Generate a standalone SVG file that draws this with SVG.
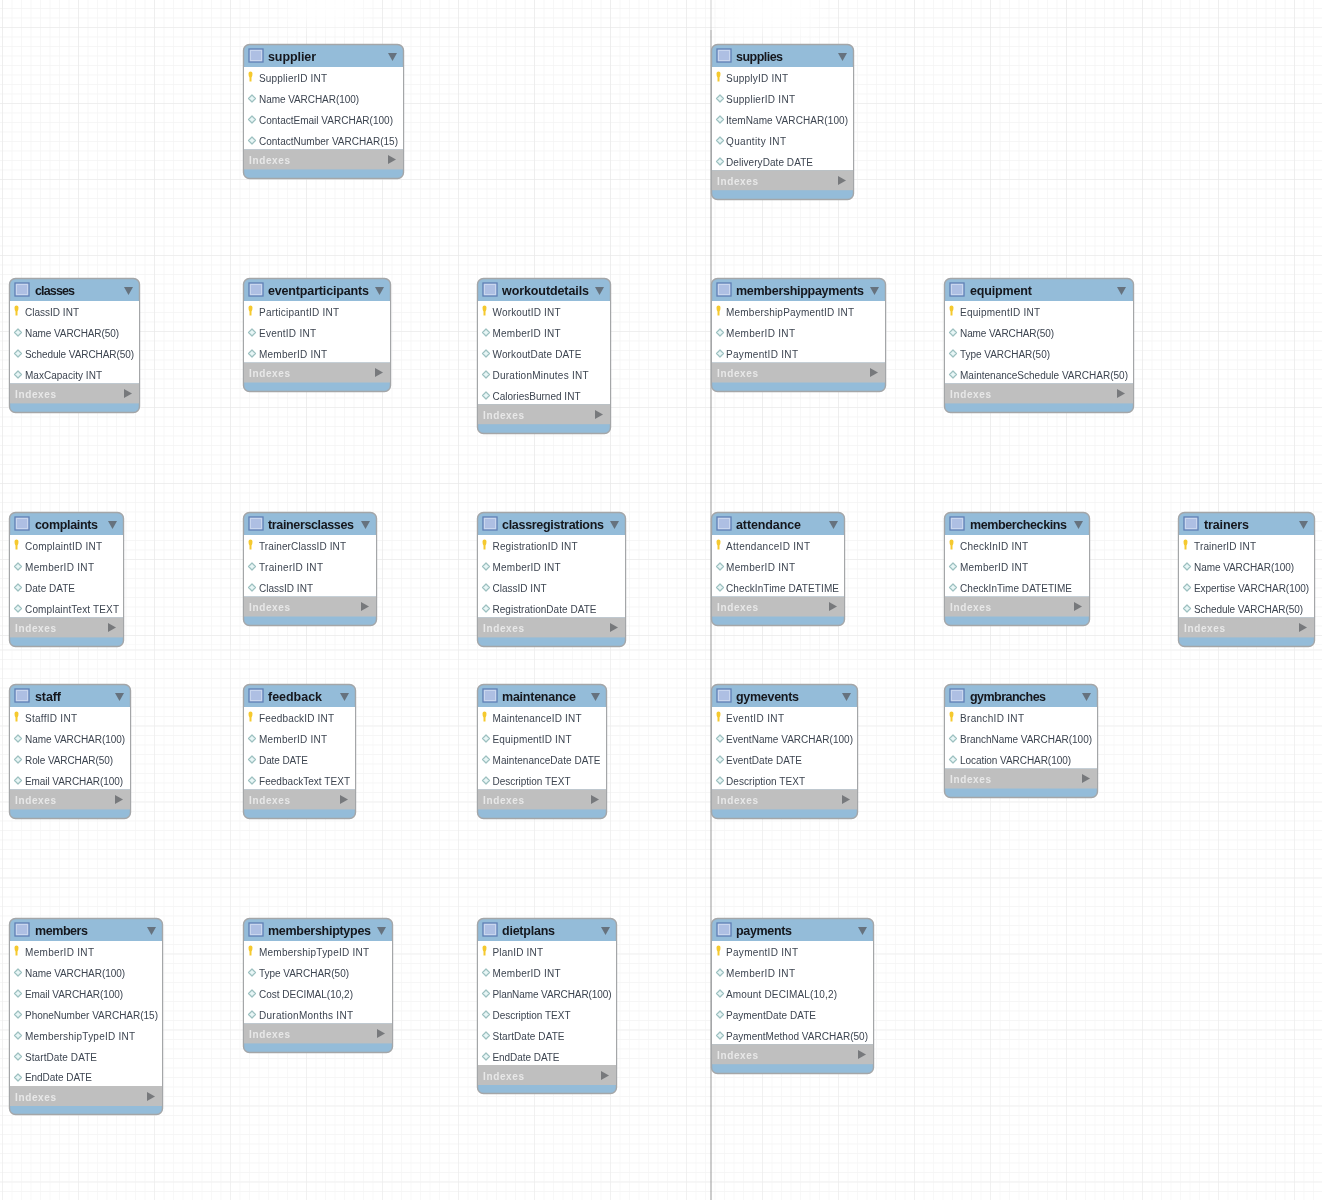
<svg xmlns="http://www.w3.org/2000/svg" width="1322" height="1200" viewBox="0 0 1322 1200">
<style>
text{font-family:"Liberation Sans",Arial,sans-serif}
.o{fill:#94bcd9;stroke:#a4a6a8;stroke-width:1.4}
.b{fill:#fff}
.i{fill:#bfbfbf}
.t{font-size:12.5px;font-weight:bold;fill:#14181e}
.r{font-size:10px;fill:#3c4450}
.x{font-size:10px;font-weight:bold;fill:#e8e8e8}
.h{fill:#66727e}
.a{fill:#77797c}
</style>
<defs>
<pattern id="minorA" patternUnits="userSpaceOnUse" x="2" y="27" width="9.5" height="9.5"><path d="M0 0V9.5M0 0H9.5" fill="none" stroke="#f3f3f3" stroke-width="1.3"/></pattern>
<pattern id="majorA" patternUnits="userSpaceOnUse" x="2" y="27" width="76" height="76"><path d="M0 0V76M0 0H76" fill="none" stroke="#e8e8e8" stroke-width="1.2"/></pattern>
<pattern id="minorB" patternUnits="userSpaceOnUse" x="2" y="41.500" width="9.5" height="9.5"><path d="M0 0V9.5M0 0H9.5" fill="none" stroke="#f4f4f4" stroke-width="1.2"/></pattern>
<pattern id="majorB" patternUnits="userSpaceOnUse" x="2" y="41.500" width="76" height="76"><path d="M0 0V76M0 0H76" fill="none" stroke="#ebebeb" stroke-width="1.1"/></pattern>
<filter id="soft" x="-30%" y="-30%" width="160%" height="160%"><feGaussianBlur stdDeviation="9"/></filter>
<filter id="ink"><feGaussianBlur stdDeviation="0.3"/></filter>
<g id="tbl"><rect x="6" y="5" width="14" height="13" fill="#c9d6ee" stroke="#5f7fb5" stroke-width="1.3"/><rect x="8" y="7" width="10" height="9" fill="#aebfe3"/></g>
<g id="key"><path d="M5.500 29.500a2 2 0 0 1 4 0q0 3-1 4v4h-2v-4q-1-1-1-4z" fill="#f5c92e"/></g>
<g id="d"><path d="M9-3.500L12.500 0L9 3.500L5.500 0z" fill="#e8f6f6" stroke="#9cc0c0" stroke-width="1.2" stroke-linejoin="round"/></g>
</defs>
<rect width="1322" height="1200" fill="#fff"/>
<rect width="1322" height="645" fill="url(#minorA)"/>
<rect width="1322" height="645" fill="url(#majorA)"/>
<rect y="645" width="1322" height="555" fill="url(#minorB)"/>
<rect y="645" width="1322" height="555" fill="url(#majorB)"/>
<g filter="url(#soft)" fill="#fff" opacity=".8"><rect x="290" y="-10" width="70" height="35"/><rect x="725" y="-10" width="90" height="40"/></g>
<g id="connectors"><path d="M711 0V30" stroke="#cfcfcf" stroke-width="1"/><path d="M711 30V1200" stroke="#999" stroke-width="1"/></g>

<g filter="url(#ink)">
<g id="supplier" transform="translate(243,44)">
<rect class="o" x=".5" y=".5" width="160" height="134" rx="6"/><rect class="b" x="1" y="23" width="159" height="82.400"/><rect class="i" x="1" y="105.400" width="159" height="20"/>
<use href="#tbl"/><text class="t" x="25" y="17" textLength="48">supplier</text><path class="h" d="M145 9h9l-4.500 8z"/>
<use href="#key"/><text class="r" x="16" y="37.500" textLength="68">SupplierID INT</text>
<use href="#d" y="54.500"/><text class="r" x="16" y="59.200" textLength="100">Name VARCHAR(100)</text>
<use href="#d" y="75.500"/><text class="r" x="16" y="80" textLength="134">ContactEmail VARCHAR(100)</text>
<use href="#d" y="96.500"/><text class="r" x="16" y="100.800" textLength="139">ContactNumber VARCHAR(15)</text>
<text class="x" x="6" y="120" textLength="41">Indexes</text><path class="a" d="M145 111v9l8-4.500z"/>
</g>
<g id="supplies" transform="translate(711,44)">
<rect class="o" x=".5" y=".5" width="142" height="155" rx="6"/><rect class="b" x="1" y="23" width="141" height="103.200"/><rect class="i" x="1" y="126.200" width="141" height="20"/>
<use href="#tbl"/><text class="t" x="25" y="17" textLength="47">supplies</text><path class="h" d="M127 9h9l-4.500 8z"/>
<use href="#key"/><text class="r" x="15" y="37.500" textLength="62">SupplyID INT</text>
<use href="#d" y="54.500"/><text class="r" x="15" y="59.200" textLength="69">SupplierID INT</text>
<use href="#d" y="75.500"/><text class="r" x="15" y="80" textLength="122">ItemName VARCHAR(100)</text>
<use href="#d" y="96.500"/><text class="r" x="15" y="100.800" textLength="60">Quantity INT</text>
<use href="#d" y="117.500"/><text class="r" x="15" y="121.700" textLength="87">DeliveryDate DATE</text>
<text class="x" x="6" y="141" textLength="41">Indexes</text><path class="a" d="M127 132v9l8-4.500z"/>
</g>
<g id="classes" transform="translate(9,278)">
<rect class="o" x=".5" y=".5" width="130" height="134" rx="6"/><rect class="b" x="1" y="23" width="129" height="82.400"/><rect class="i" x="1" y="105.400" width="129" height="20"/>
<use href="#tbl"/><text class="t" x="26" y="17" textLength="40">classes</text><path class="h" d="M115 9h9l-4.500 8z"/>
<use href="#key"/><text class="r" x="16" y="37.500" textLength="54">ClassID INT</text>
<use href="#d" y="54.500"/><text class="r" x="16" y="59.200" textLength="94">Name VARCHAR(50)</text>
<use href="#d" y="75.500"/><text class="r" x="16" y="80" textLength="109">Schedule VARCHAR(50)</text>
<use href="#d" y="96.500"/><text class="r" x="16" y="100.800" textLength="77">MaxCapacity INT</text>
<text class="x" x="6" y="120" textLength="41">Indexes</text><path class="a" d="M115 111v9l8-4.500z"/>
</g>
<g id="eventparticipants" transform="translate(243,278)">
<rect class="o" x=".5" y=".5" width="147" height="113" rx="6"/><rect class="b" x="1" y="23" width="146" height="61.500"/><rect class="i" x="1" y="84.500" width="146" height="20"/>
<use href="#tbl"/><text class="t" x="25" y="17" textLength="101">eventparticipants</text><path class="h" d="M132 9h9l-4.500 8z"/>
<use href="#key"/><text class="r" x="16" y="37.500" textLength="80">ParticipantID INT</text>
<use href="#d" y="54.500"/><text class="r" x="16" y="59.200" textLength="57">EventID INT</text>
<use href="#d" y="75.500"/><text class="r" x="16" y="80" textLength="68">MemberID INT</text>
<text class="x" x="6" y="99" textLength="41">Indexes</text><path class="a" d="M132 90v9l8-4.500z"/>
</g>
<g id="workoutdetails" transform="translate(477,278)">
<rect class="o" x=".5" y=".5" width="133" height="155" rx="6"/><rect class="b" x="1" y="23" width="132" height="103.200"/><rect class="i" x="1" y="126.200" width="132" height="20"/>
<use href="#tbl"/><text class="t" x="25" y="17" textLength="87">workoutdetails</text><path class="h" d="M118 9h9l-4.500 8z"/>
<use href="#key"/><text class="r" x="15.500" y="37.500" textLength="68">WorkoutID INT</text>
<use href="#d" y="54.500"/><text class="r" x="15.500" y="59.200" textLength="68">MemberID INT</text>
<use href="#d" y="75.500"/><text class="r" x="15.500" y="80" textLength="89">WorkoutDate DATE</text>
<use href="#d" y="96.500"/><text class="r" x="15.500" y="100.800" textLength="96">DurationMinutes INT</text>
<use href="#d" y="117.500"/><text class="r" x="15.500" y="121.700" textLength="88">CaloriesBurned INT</text>
<text class="x" x="6" y="141" textLength="41">Indexes</text><path class="a" d="M118 132v9l8-4.500z"/>
</g>
<g id="membershippayments" transform="translate(711,278)">
<rect class="o" x=".5" y=".5" width="174" height="113" rx="6"/><rect class="b" x="1" y="23" width="173" height="61.500"/><rect class="i" x="1" y="84.500" width="173" height="20"/>
<use href="#tbl"/><text class="t" x="25" y="17" textLength="128">membershippayments</text><path class="h" d="M159 9h9l-4.500 8z"/>
<use href="#key"/><text class="r" x="15" y="37.500" textLength="128">MembershipPaymentID INT</text>
<use href="#d" y="54.500"/><text class="r" x="15" y="59.200" textLength="69">MemberID INT</text>
<use href="#d" y="75.500"/><text class="r" x="15" y="80" textLength="72">PaymentID INT</text>
<text class="x" x="6" y="99" textLength="41">Indexes</text><path class="a" d="M159 90v9l8-4.500z"/>
</g>
<g id="equipment" transform="translate(944,278)">
<rect class="o" x=".5" y=".5" width="189" height="134" rx="6"/><rect class="b" x="1" y="23" width="188" height="82.400"/><rect class="i" x="1" y="105.400" width="188" height="20"/>
<use href="#tbl"/><text class="t" x="26" y="17" textLength="62">equipment</text><path class="h" d="M173 9h9l-4.500 8z"/>
<use href="#key"/><text class="r" x="16" y="37.500" textLength="80">EquipmentID INT</text>
<use href="#d" y="54.500"/><text class="r" x="16" y="59.200" textLength="94">Name VARCHAR(50)</text>
<use href="#d" y="75.500"/><text class="r" x="16" y="80" textLength="90">Type VARCHAR(50)</text>
<use href="#d" y="96.500"/><text class="r" x="16" y="100.800" textLength="168">MaintenanceSchedule VARCHAR(50)</text>
<text class="x" x="6" y="120" textLength="41">Indexes</text><path class="a" d="M173 111v9l8-4.500z"/>
</g>
<g id="complaints" transform="translate(9,512)">
<rect class="o" x=".5" y=".5" width="114" height="134" rx="6"/><rect class="b" x="1" y="23" width="113" height="82.400"/><rect class="i" x="1" y="105.400" width="113" height="20"/>
<use href="#tbl"/><text class="t" x="26" y="17" textLength="63">complaints</text><path class="h" d="M99 9h9l-4.500 8z"/>
<use href="#key"/><text class="r" x="16" y="37.500" textLength="77">ComplaintID INT</text>
<use href="#d" y="54.500"/><text class="r" x="16" y="59.200" textLength="69">MemberID INT</text>
<use href="#d" y="75.500"/><text class="r" x="16" y="80" textLength="50">Date DATE</text>
<use href="#d" y="96.500"/><text class="r" x="16" y="100.800" textLength="94">ComplaintText TEXT</text>
<text class="x" x="6" y="120" textLength="41">Indexes</text><path class="a" d="M99 111v9l8-4.500z"/>
</g>
<g id="trainersclasses" transform="translate(243,512)">
<rect class="o" x=".5" y=".5" width="133" height="113" rx="6"/><rect class="b" x="1" y="23" width="132" height="61.500"/><rect class="i" x="1" y="84.500" width="132" height="20"/>
<use href="#tbl"/><text class="t" x="25" y="17" textLength="86">trainersclasses</text><path class="h" d="M118 9h9l-4.500 8z"/>
<use href="#key"/><text class="r" x="16" y="37.500" textLength="87">TrainerClassID INT</text>
<use href="#d" y="54.500"/><text class="r" x="16" y="59.200" textLength="64">TrainerID INT</text>
<use href="#d" y="75.500"/><text class="r" x="16" y="80" textLength="54">ClassID INT</text>
<text class="x" x="6" y="99" textLength="41">Indexes</text><path class="a" d="M118 90v9l8-4.500z"/>
</g>
<g id="classregistrations" transform="translate(477,512)">
<rect class="o" x=".5" y=".5" width="148" height="134" rx="6"/><rect class="b" x="1" y="23" width="147" height="82.400"/><rect class="i" x="1" y="105.400" width="147" height="20"/>
<use href="#tbl"/><text class="t" x="25" y="17" textLength="102">classregistrations</text><path class="h" d="M133 9h9l-4.500 8z"/>
<use href="#key"/><text class="r" x="15.500" y="37.500" textLength="85">RegistrationID INT</text>
<use href="#d" y="54.500"/><text class="r" x="15.500" y="59.200" textLength="68">MemberID INT</text>
<use href="#d" y="75.500"/><text class="r" x="15.500" y="80" textLength="54">ClassID INT</text>
<use href="#d" y="96.500"/><text class="r" x="15.500" y="100.800" textLength="104">RegistrationDate DATE</text>
<text class="x" x="6" y="120" textLength="41">Indexes</text><path class="a" d="M133 111v9l8-4.500z"/>
</g>
<g id="attendance" transform="translate(711,512)">
<rect class="o" x=".5" y=".5" width="133" height="113" rx="6"/><rect class="b" x="1" y="23" width="132" height="61.500"/><rect class="i" x="1" y="84.500" width="132" height="20"/>
<use href="#tbl"/><text class="t" x="25" y="17" textLength="65">attendance</text><path class="h" d="M118 9h9l-4.500 8z"/>
<use href="#key"/><text class="r" x="15" y="37.500" textLength="84">AttendanceID INT</text>
<use href="#d" y="54.500"/><text class="r" x="15" y="59.200" textLength="69">MemberID INT</text>
<use href="#d" y="75.500"/><text class="r" x="15" y="80" textLength="113">CheckInTime DATETIME</text>
<text class="x" x="6" y="99" textLength="41">Indexes</text><path class="a" d="M118 90v9l8-4.500z"/>
</g>
<g id="membercheckins" transform="translate(944,512)">
<rect class="o" x=".5" y=".5" width="145" height="113" rx="6"/><rect class="b" x="1" y="23" width="144" height="61.500"/><rect class="i" x="1" y="84.500" width="144" height="20"/>
<use href="#tbl"/><text class="t" x="26" y="17" textLength="97">membercheckins</text><path class="h" d="M130 9h9l-4.500 8z"/>
<use href="#key"/><text class="r" x="16" y="37.500" textLength="68">CheckInID INT</text>
<use href="#d" y="54.500"/><text class="r" x="16" y="59.200" textLength="68">MemberID INT</text>
<use href="#d" y="75.500"/><text class="r" x="16" y="80" textLength="112">CheckInTime DATETIME</text>
<text class="x" x="6" y="99" textLength="41">Indexes</text><path class="a" d="M130 90v9l8-4.500z"/>
</g>
<g id="trainers" transform="translate(1178,512)">
<rect class="o" x=".5" y=".5" width="136" height="134" rx="6"/><rect class="b" x="1" y="23" width="135" height="82.400"/><rect class="i" x="1" y="105.400" width="135" height="20"/>
<use href="#tbl"/><text class="t" x="26" y="17" textLength="45">trainers</text><path class="h" d="M121 9h9l-4.500 8z"/>
<use href="#key"/><text class="r" x="16" y="37.500" textLength="62">TrainerID INT</text>
<use href="#d" y="54.500"/><text class="r" x="16" y="59.200" textLength="100">Name VARCHAR(100)</text>
<use href="#d" y="75.500"/><text class="r" x="16" y="80" textLength="115">Expertise VARCHAR(100)</text>
<use href="#d" y="96.500"/><text class="r" x="16" y="100.800" textLength="109">Schedule VARCHAR(50)</text>
<text class="x" x="6" y="120" textLength="41">Indexes</text><path class="a" d="M121 111v9l8-4.500z"/>
</g>
<g id="staff" transform="translate(9,684)">
<rect class="o" x=".5" y=".5" width="121" height="134" rx="6"/><rect class="b" x="1" y="23" width="120" height="82.400"/><rect class="i" x="1" y="105.400" width="120" height="20"/>
<use href="#tbl"/><text class="t" x="26" y="17" textLength="26">staff</text><path class="h" d="M106 9h9l-4.500 8z"/>
<use href="#key"/><text class="r" x="16" y="37.500" textLength="52">StaffID INT</text>
<use href="#d" y="54.500"/><text class="r" x="16" y="59.200" textLength="100">Name VARCHAR(100)</text>
<use href="#d" y="75.500"/><text class="r" x="16" y="80" textLength="88">Role VARCHAR(50)</text>
<use href="#d" y="96.500"/><text class="r" x="16" y="100.800" textLength="98">Email VARCHAR(100)</text>
<text class="x" x="6" y="120" textLength="41">Indexes</text><path class="a" d="M106 111v9l8-4.500z"/>
</g>
<g id="feedback" transform="translate(243,684)">
<rect class="o" x=".5" y=".5" width="112" height="134" rx="6"/><rect class="b" x="1" y="23" width="111" height="82.400"/><rect class="i" x="1" y="105.400" width="111" height="20"/>
<use href="#tbl"/><text class="t" x="25" y="17" textLength="54">feedback</text><path class="h" d="M97 9h9l-4.500 8z"/>
<use href="#key"/><text class="r" x="16" y="37.500" textLength="75">FeedbackID INT</text>
<use href="#d" y="54.500"/><text class="r" x="16" y="59.200" textLength="68">MemberID INT</text>
<use href="#d" y="75.500"/><text class="r" x="16" y="80" textLength="49">Date DATE</text>
<use href="#d" y="96.500"/><text class="r" x="16" y="100.800" textLength="91">FeedbackText TEXT</text>
<text class="x" x="6" y="120" textLength="41">Indexes</text><path class="a" d="M97 111v9l8-4.500z"/>
</g>
<g id="maintenance" transform="translate(477,684)">
<rect class="o" x=".5" y=".5" width="129" height="134" rx="6"/><rect class="b" x="1" y="23" width="128" height="82.400"/><rect class="i" x="1" y="105.400" width="128" height="20"/>
<use href="#tbl"/><text class="t" x="25" y="17" textLength="74">maintenance</text><path class="h" d="M114 9h9l-4.500 8z"/>
<use href="#key"/><text class="r" x="15.500" y="37.500" textLength="89">MaintenanceID INT</text>
<use href="#d" y="54.500"/><text class="r" x="15.500" y="59.200" textLength="79">EquipmentID INT</text>
<use href="#d" y="75.500"/><text class="r" x="15.500" y="80" textLength="108">MaintenanceDate DATE</text>
<use href="#d" y="96.500"/><text class="r" x="15.500" y="100.800" textLength="78">Description TEXT</text>
<text class="x" x="6" y="120" textLength="41">Indexes</text><path class="a" d="M114 111v9l8-4.500z"/>
</g>
<g id="gymevents" transform="translate(711,684)">
<rect class="o" x=".5" y=".5" width="146" height="134" rx="6"/><rect class="b" x="1" y="23" width="145" height="82.400"/><rect class="i" x="1" y="105.400" width="145" height="20"/>
<use href="#tbl"/><text class="t" x="25" y="17" textLength="63">gymevents</text><path class="h" d="M131 9h9l-4.500 8z"/>
<use href="#key"/><text class="r" x="15" y="37.500" textLength="58">EventID INT</text>
<use href="#d" y="54.500"/><text class="r" x="15" y="59.200" textLength="127">EventName VARCHAR(100)</text>
<use href="#d" y="75.500"/><text class="r" x="15" y="80" textLength="76">EventDate DATE</text>
<use href="#d" y="96.500"/><text class="r" x="15" y="100.800" textLength="79">Description TEXT</text>
<text class="x" x="6" y="120" textLength="41">Indexes</text><path class="a" d="M131 111v9l8-4.500z"/>
</g>
<g id="gymbranches" transform="translate(944,684)">
<rect class="o" x=".5" y=".5" width="153" height="113" rx="6"/><rect class="b" x="1" y="23" width="152" height="61.500"/><rect class="i" x="1" y="84.500" width="152" height="20"/>
<use href="#tbl"/><text class="t" x="26" y="17" textLength="76">gymbranches</text><path class="h" d="M138 9h9l-4.500 8z"/>
<use href="#key"/><text class="r" x="16" y="37.500" textLength="64">BranchID INT</text>
<use href="#d" y="54.500"/><text class="r" x="16" y="59.200" textLength="132">BranchName VARCHAR(100)</text>
<use href="#d" y="75.500"/><text class="r" x="16" y="80" textLength="111">Location VARCHAR(100)</text>
<text class="x" x="6" y="99" textLength="41">Indexes</text><path class="a" d="M138 90v9l8-4.500z"/>
</g>
<g id="members" transform="translate(9,918)">
<rect class="o" x=".5" y=".5" width="153" height="196" rx="6"/><rect class="b" x="1" y="23" width="152" height="145"/><rect class="i" x="1" y="168" width="152" height="20"/>
<use href="#tbl"/><text class="t" x="26" y="17" textLength="53">members</text><path class="h" d="M138 9h9l-4.500 8z"/>
<use href="#key"/><text class="r" x="16" y="37.500" textLength="69">MemberID INT</text>
<use href="#d" y="54.500"/><text class="r" x="16" y="59.200" textLength="100">Name VARCHAR(100)</text>
<use href="#d" y="75.500"/><text class="r" x="16" y="80" textLength="98">Email VARCHAR(100)</text>
<use href="#d" y="96.500"/><text class="r" x="16" y="100.800" textLength="133">PhoneNumber VARCHAR(15)</text>
<use href="#d" y="117.500"/><text class="r" x="16" y="121.700" textLength="110">MembershipTypeID INT</text>
<use href="#d" y="138.500"/><text class="r" x="16" y="142.500" textLength="72">StartDate DATE</text>
<use href="#d" y="159.500"/><text class="r" x="16" y="163.300" textLength="67">EndDate DATE</text>
<text class="x" x="6" y="183" textLength="41">Indexes</text><path class="a" d="M138 174v9l8-4.500z"/>
</g>
<g id="membershiptypes" transform="translate(243,918)">
<rect class="o" x=".5" y=".5" width="149" height="134" rx="6"/><rect class="b" x="1" y="23" width="148" height="82.400"/><rect class="i" x="1" y="105.400" width="148" height="20"/>
<use href="#tbl"/><text class="t" x="25" y="17" textLength="103">membershiptypes</text><path class="h" d="M134 9h9l-4.500 8z"/>
<use href="#key"/><text class="r" x="16" y="37.500" textLength="110">MembershipTypeID INT</text>
<use href="#d" y="54.500"/><text class="r" x="16" y="59.200" textLength="90">Type VARCHAR(50)</text>
<use href="#d" y="75.500"/><text class="r" x="16" y="80" textLength="94">Cost DECIMAL(10,2)</text>
<use href="#d" y="96.500"/><text class="r" x="16" y="100.800" textLength="94">DurationMonths INT</text>
<text class="x" x="6" y="120" textLength="41">Indexes</text><path class="a" d="M134 111v9l8-4.500z"/>
</g>
<g id="dietplans" transform="translate(477,918)">
<rect class="o" x=".5" y=".5" width="139" height="175" rx="6"/><rect class="b" x="1" y="23" width="138" height="124"/><rect class="i" x="1" y="147" width="138" height="20"/>
<use href="#tbl"/><text class="t" x="25" y="17" textLength="53">dietplans</text><path class="h" d="M124 9h9l-4.500 8z"/>
<use href="#key"/><text class="r" x="15.500" y="37.500" textLength="50.500">PlanID INT</text>
<use href="#d" y="54.500"/><text class="r" x="15.500" y="59.200" textLength="68">MemberID INT</text>
<use href="#d" y="75.500"/><text class="r" x="15.500" y="80" textLength="119">PlanName VARCHAR(100)</text>
<use href="#d" y="96.500"/><text class="r" x="15.500" y="100.800" textLength="78">Description TEXT</text>
<use href="#d" y="117.500"/><text class="r" x="15.500" y="121.700" textLength="72">StartDate DATE</text>
<use href="#d" y="138.500"/><text class="r" x="15.500" y="142.500" textLength="67">EndDate DATE</text>
<text class="x" x="6" y="162" textLength="41">Indexes</text><path class="a" d="M124 153v9l8-4.500z"/>
</g>
<g id="payments" transform="translate(711,918)">
<rect class="o" x=".5" y=".5" width="162" height="155" rx="6"/><rect class="b" x="1" y="23" width="161" height="103.200"/><rect class="i" x="1" y="126.200" width="161" height="20"/>
<use href="#tbl"/><text class="t" x="25" y="17" textLength="56">payments</text><path class="h" d="M147 9h9l-4.500 8z"/>
<use href="#key"/><text class="r" x="15" y="37.500" textLength="72">PaymentID INT</text>
<use href="#d" y="54.500"/><text class="r" x="15" y="59.200" textLength="69">MemberID INT</text>
<use href="#d" y="75.500"/><text class="r" x="15" y="80" textLength="111">Amount DECIMAL(10,2)</text>
<use href="#d" y="96.500"/><text class="r" x="15" y="100.800" textLength="90">PaymentDate DATE</text>
<use href="#d" y="117.500"/><text class="r" x="15" y="121.700" textLength="142">PaymentMethod VARCHAR(50)</text>
<text class="x" x="6" y="141" textLength="41">Indexes</text><path class="a" d="M147 132v9l8-4.500z"/>
</g>
</g>
</svg>
